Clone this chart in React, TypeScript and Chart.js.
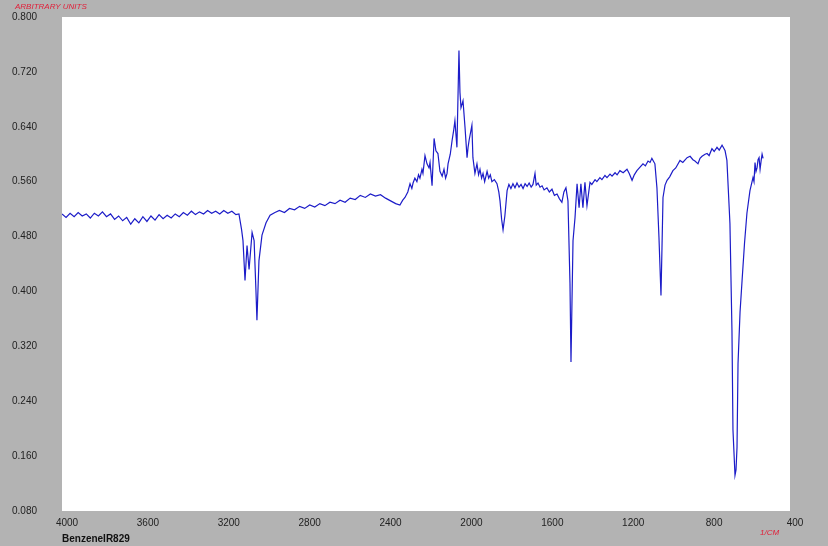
import { useEffect, useRef } from "react";
import { Chart, registerables } from "chart.js";

Chart.register(...registerables);

const wavenumbers: number[] = [
  4000, 3980, 3960, 3940, 3920, 3900, 3880, 3860, 3840, 3820, 3800, 3780, 3760, 3740, 3720, 3700, 3680, 3660, 3640, 3620,
  3600, 3580, 3560, 3540, 3520, 3500, 3480, 3460, 3440, 3420, 3400, 3380, 3360, 3340, 3320, 3300, 3280, 3260, 3240, 3220,
  3200, 3180, 3160, 3140, 3125,
  3112, 3105, 3095, 3085, 3075, 3060, 3050, 3041, 3036, 3026, 3011, 2991, 2971, 2947,
  2925, 2900, 2875, 2850, 2825, 2800, 2775, 2750, 2725, 2700, 2675, 2650, 2625, 2600, 2575, 2550, 2525, 2500, 2475, 2450,
  2425, 2400, 2375, 2350, 2329,
  2315, 2304, 2290, 2279, 2270, 2264, 2255, 2245, 2237, 2230, 2220, 2215, 2205, 2195, 2185, 2180, 2170, 2160, 2151, 2141,
  2131, 2120, 2111, 2103, 2096, 2091, 2080, 2071, 2063, 2057, 2047, 2037, 2032, 2027, 2017, 2007, 1997, 1992, 1987, 1973,
  1968, 1958, 1948, 1940, 1933, 1925, 1918, 1910, 1898, 1890, 1882, 1874, 1862, 1849, 1840, 1834, 1826, 1819, 1810, 1799,
  1790, 1780, 1770, 1760, 1750, 1740, 1730, 1720, 1710, 1700, 1690, 1680, 1671, 1661, 1655, 1646, 1636, 1626, 1616, 1602,
  1590, 1577, 1565, 1552, 1540, 1528, 1518, 1508, 1498, 1488, 1483, 1478, 1473, 1463, 1453, 1443, 1434, 1424, 1414, 1404,
  1389, 1380, 1364, 1355, 1340, 1330, 1315, 1305, 1290, 1280, 1265, 1255, 1241,
  1225, 1206, 1195, 1181, 1170, 1157, 1145, 1127, 1115, 1102, 1092, 1083, 1068, 1058, 1048, 1038, 1033, 1028, 1018, 1008,
  995, 979, 965, 944, 930, 909, 894, 880, 870, 855, 845, 835, 820, 810, 800, 786, 775, 761, 750, 736,
  728, 721, 712, 697, 687, 682, 672, 667, 662, 657, 647, 637, 625, 613, 598, 583, 578, 573, 568, 563,
  558, 553, 548, 543, 538, 533,
];

const absorbance: number[] = [
  0.513, 0.508, 0.514, 0.509, 0.515, 0.51, 0.513, 0.507, 0.514, 0.51, 0.516, 0.509, 0.513, 0.505, 0.51, 0.503, 0.508, 0.498, 0.506, 0.5,
  0.509, 0.502, 0.51, 0.504, 0.512, 0.506, 0.511, 0.507, 0.513, 0.509, 0.515, 0.511, 0.517, 0.512, 0.516, 0.513, 0.518, 0.514, 0.517, 0.513,
  0.518, 0.514, 0.517, 0.512, 0.513,
  0.49, 0.474, 0.416, 0.467, 0.432, 0.486, 0.474, 0.402, 0.358, 0.445, 0.482, 0.5, 0.511, 0.515,
  0.518, 0.515, 0.521, 0.519, 0.524, 0.521, 0.526, 0.523, 0.528, 0.525, 0.53, 0.528, 0.533, 0.53, 0.536, 0.534, 0.54, 0.537, 0.542, 0.539,
  0.541, 0.536, 0.532, 0.528, 0.526,
  0.533, 0.537, 0.545, 0.557, 0.55, 0.558, 0.565, 0.56, 0.57, 0.565, 0.578, 0.572, 0.598, 0.586, 0.58, 0.588, 0.554, 0.623, 0.605, 0.601,
  0.575, 0.568, 0.578, 0.565, 0.572, 0.586, 0.6, 0.62, 0.635, 0.649, 0.61, 0.751, 0.69, 0.668, 0.678, 0.639, 0.595, 0.61, 0.62, 0.642,
  0.595, 0.572, 0.586, 0.57, 0.578, 0.565, 0.572, 0.56, 0.575, 0.565, 0.57, 0.56, 0.563, 0.557, 0.545, 0.532, 0.505, 0.49, 0.51, 0.547,
  0.556, 0.55, 0.557, 0.551, 0.558, 0.552, 0.556, 0.55, 0.557, 0.553, 0.558, 0.552, 0.556, 0.572, 0.555, 0.558, 0.552, 0.554, 0.548, 0.551,
  0.545, 0.549, 0.54, 0.542, 0.535, 0.53, 0.545, 0.551, 0.532, 0.412, 0.297, 0.387, 0.474, 0.508, 0.557, 0.522, 0.557, 0.522, 0.559, 0.525,
  0.559, 0.556, 0.563, 0.56, 0.566, 0.563, 0.569, 0.566, 0.571, 0.568, 0.573, 0.57, 0.576,
  0.573, 0.578, 0.572, 0.562, 0.57, 0.576, 0.58, 0.586, 0.583, 0.59, 0.588, 0.594, 0.586, 0.551, 0.479, 0.394, 0.464, 0.537, 0.555, 0.562,
  0.567, 0.576, 0.58, 0.591, 0.588, 0.595, 0.597, 0.592, 0.59, 0.586, 0.594, 0.597, 0.6, 0.601, 0.598, 0.608, 0.604, 0.61, 0.606, 0.613,
  0.609, 0.605, 0.591, 0.499, 0.343, 0.198, 0.132, 0.14, 0.173, 0.295, 0.37, 0.416, 0.47, 0.514, 0.547, 0.566, 0.56, 0.588, 0.575, 0.58,
  0.592, 0.595, 0.578, 0.59, 0.6, 0.594,
];

const xTickValues: number[] = [4000, 3600, 3200, 2800, 2400, 2000, 1600, 1200, 800, 400];
const yTickValues: number[] = [0.08, 0.16, 0.24, 0.32, 0.4, 0.48, 0.56, 0.64, 0.72, 0.8];

const yAxisTitle = "ARBITRARY UNITS";
const xAxisTitle = "1/CM";
const sampleName = "BenzeneIR829";

const FONT = "'Liberation Sans', Arial, sans-serif";

const decorPlugin = {
  id: "decor",
  beforeDraw(chart: any) {
    const { ctx, chartArea, width, height } = chart;
    ctx.save();
    ctx.fillStyle = "#b3b3b3";
    ctx.fillRect(0, 0, width, height);
    ctx.fillStyle = "#ffffff";
    ctx.fillRect(chartArea.left, chartArea.top, chartArea.right - chartArea.left, chartArea.bottom - chartArea.top);
    ctx.restore();
  },
  afterDraw(chart: any) {
    const { ctx } = chart;
    ctx.save();
    ctx.textBaseline = "middle";
    ctx.textAlign = "left";
    ctx.fillStyle = "#e0203a";
    ctx.font = `italic 8px ${FONT}`;
    ctx.fillText(yAxisTitle, 15, 7);
    ctx.fillText(xAxisTitle, 760, 533);
    ctx.fillStyle = "#111111";
    ctx.font = `bold 10px ${FONT}`;
    ctx.fillText(sampleName, 62, 539);
    ctx.restore();
  },
};

export default function App() {
  const ref = useRef<HTMLCanvasElement | null>(null);

  useEffect(() => {
    if (!ref.current) return;
    const points = wavenumbers.map((w, i) => ({ x: w, y: absorbance[i] }));
    const chart = new Chart(ref.current, {
      type: "line",
      data: {
        datasets: [
          {
            data: points,
            borderColor: "#1c1cc8",
            borderWidth: 1.2,
            pointRadius: 0,
            tension: 0,
            fill: false,
          },
        ],
      },
      options: {
        animation: false,
        responsive: false,
        maintainAspectRatio: false,
        layout: { padding: { left: 12, top: 17, right: 38, bottom: 0 } },
        plugins: { legend: { display: false }, tooltip: { enabled: false } },
        scales: {
          x: {
            type: "linear",
            reverse: true,
            min: 400,
            max: 4000,
            grid: { display: false, drawTicks: false, tickLength: 0 },
            border: { display: false },
            afterBuildTicks: (s: any) => {
              s.ticks = xTickValues.map((v) => ({ value: v }));
            },
            afterFit: (s: any) => {
              s.height = 35;
            },
            ticks: {
              color: "#222222",
              font: { family: FONT, size: 10 },
              padding: 6,
              labelOffset: 5,
              maxRotation: 0,
              autoSkip: false,
              callback: (v: any) => String(v),
            },
          },
          y: {
            type: "linear",
            min: 0.08,
            max: 0.8,
            grid: { display: false, drawTicks: false, tickLength: 0 },
            border: { display: false },
            afterBuildTicks: (s: any) => {
              s.ticks = yTickValues.map((v) => ({ value: v }));
            },
            afterFit: (s: any) => {
              s.width = 50;
            },
            ticks: {
              color: "#222222",
              font: { family: FONT, size: 10 },
              crossAlign: "far",
              autoSkip: false,
              callback: (v: any) => Number(v).toFixed(3),
            },
          },
        },
      },
      plugins: [decorPlugin],
    });
    return () => chart.destroy();
  }, []);

  return (
    <div style={{ position: "absolute", left: 0, top: 0, width: 828, height: 546 }}>
      <canvas ref={ref} width={828} height={546} style={{ display: "block" }} />
    </div>
  );
}
